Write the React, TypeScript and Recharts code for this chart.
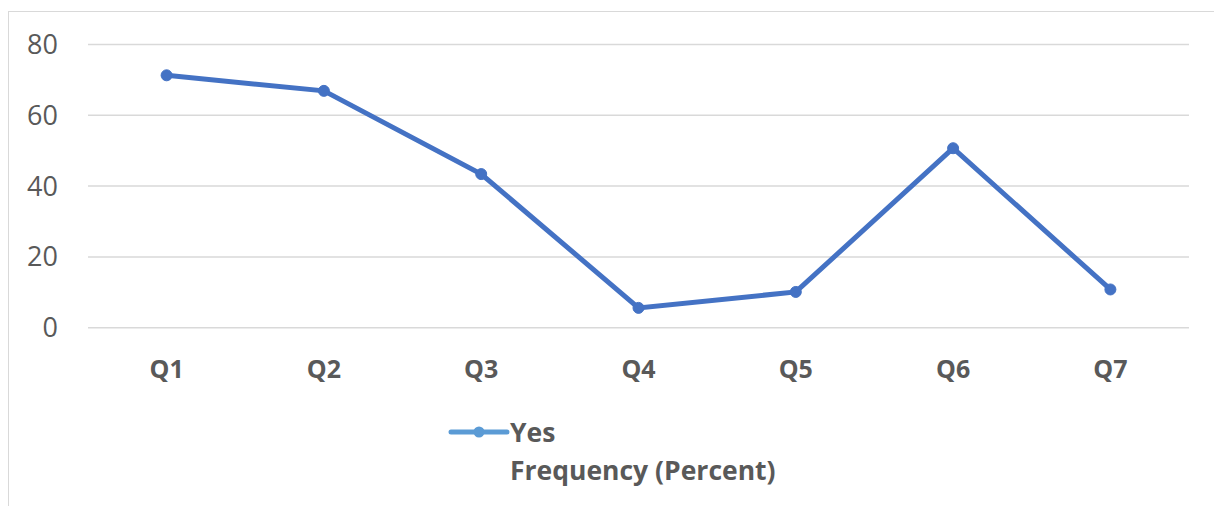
import React from "react";
import { LineChart, Line, XAxis, YAxis, CartesianGrid } from "recharts";

const categories = ["Q1", "Q2", "Q3", "Q4", "Q5", "Q6", "Q7"];
const yesValues = [71.3, 66.9, 43.4, 5.6, 10.1, 50.7, 10.8];
const yTicks = [0, 20, 40, 60, 80];
const seriesName = "Yes";
const axisTitle = "Frequency (Percent)";

const data = categories.map((c, i) => ({ name: c, yes: yesValues[i] }));

const FONT = "'Open Sans', 'Noto Sans', sans-serif";
const TEXT = "#595959";

export default function App() {
  return (
    <div style={{ position: "absolute", left: 0, top: 0, width: 1214, height: 506, background: "#fff", fontFamily: FONT, overflow: "hidden" }}>
      <div style={{ position: "absolute", left: 8, top: 11, width: 1220, height: 520, border: "1.5px solid #d9d9d9", boxSizing: "border-box" }} />
      <LineChart width={1214} height={506} data={data} margin={{ top: 44.5, right: 25, bottom: 148.3, left: 0 }}>
        <CartesianGrid vertical={false} stroke="#d9d9d9" strokeWidth={1.5} />
        <XAxis
          dataKey="name"
          height={30}
          axisLine={false}
          tickLine={false}
          tickMargin={27}
          padding={{ left: 78.6, right: 78.6 }}
          tick={{ fill: TEXT, fontSize: 25, fontWeight: 700, fontFamily: FONT }}
          interval={0}
        />
        <YAxis
          width={88}
          domain={[0, 80]}
          ticks={yTicks}
          axisLine={false}
          tickLine={false}
          tickMargin={24}
          tick={{ fill: TEXT, fontSize: 27, fontFamily: FONT }}
        />
        <Line
          type="linear"
          dataKey="yes"
          name={seriesName}
          stroke="#4472C4"
          strokeWidth={5}
          dot={{ r: 5.5, fill: "#4472C4", stroke: "#4472C4", strokeWidth: 1 }}
          isAnimationActive={false}
        />
      </LineChart>
      <svg style={{ position: "absolute", left: 0, top: 0 }} width={1214} height={506}>
        <line x1={451} y1={432} x2={507} y2={432} stroke="#5B9BD5" strokeWidth={5} strokeLinecap="round" />
        <circle cx={479} cy={432} r={5.5} fill="#5B9BD5" />
        <text x={510} y={442} fill={TEXT} fontSize={26.5} fontWeight={700} fontFamily={FONT}>{seriesName}</text>
        <text x={510} y={480} fill={TEXT} fontSize={26.5} fontWeight={700} fontFamily={FONT}>{axisTitle}</text>
      </svg>
    </div>
  );
}
